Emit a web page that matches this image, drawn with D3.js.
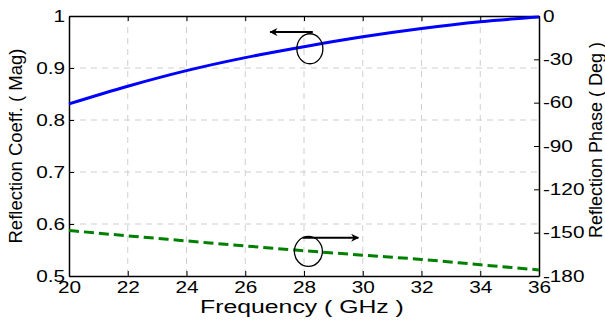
<!DOCTYPE html>
<html>
<head>
<meta charset="utf-8">
<script src="https://cdn.jsdelivr.net/npm/d3@7"></script>
<style>
  body { margin: 0; background: #fff; }
  text { font-family: "Liberation Sans", Arial, sans-serif; fill: #000; }
</style>
</head>
<body>
<div id="chart"></div>
<script>
// Frequency points (GHz)
var freq = [20, 22, 24, 26, 28, 30, 32, 34, 36];
// Reflection coefficient magnitude
var magnitude = [0.831, 0.865, 0.895, 0.920, 0.941, 0.960, 0.976, 0.989, 0.998];
// Reflection phase (deg)
var phase = [-148.5, -152.2, -155.7, -159.2, -162.5, -165.6, -168.5, -172.2, -175.8];

var xTicks = [20, 22, 24, 26, 28, 30, 32, 34, 36];
var magTicks = [0.5, 0.6, 0.7, 0.8, 0.9, 1];
var phaseTicks = [0, -30, -60, -90, -120, -150, -180];

var width = 605;
var height = 322;
var margin = { top: 16, right: 65, bottom: 46, left: 69 };
var stretch = 1.3; // tick labels in the original look wide

var svg = d3.select("#chart")
    .append("svg")
    .attr("width", width)
    .attr("height", height);

var xScale = d3.scaleLinear()
    .domain([20, 36])
    .range([margin.left, width - margin.right - 1]);

var yMag = d3.scaleLinear()
    .domain([0.5, 1])
    .range([height - margin.bottom, margin.top]);

var yPhase = d3.scaleLinear()
    .domain([-180, 0])
    .range([height - margin.bottom, margin.top]);

var x0 = xScale.range()[0], x1 = xScale.range()[1];
var y0 = yMag.range()[0], y1 = yMag.range()[1];

// grid lines
var grid = svg.append("g")
    .attr("stroke", "#cfcfcf")
    .attr("stroke-width", 1)
    .attr("stroke-dasharray", "6,5");

grid.selectAll(".gx")
    .data(xTicks.slice(1, -1))
    .enter().append("line")
    .attr("x1", d => xScale(d)).attr("x2", d => xScale(d))
    .attr("y1", y1).attr("y2", y0);

grid.selectAll(".gy")
    .data(magTicks.slice(1, -1))
    .enter().append("line")
    .attr("x1", x0).attr("x2", x1)
    .attr("y1", d => yMag(d)).attr("y2", d => yMag(d));

// axes
var xAxis = svg.append("g")
    .attr("transform", "translate(0," + y0 + ")")
    .call(d3.axisBottom(xScale).tickValues(xTicks).tickSizeInner(-5).tickSizeOuter(0).tickPadding(6));

var xTop = svg.append("g")
    .attr("transform", "translate(0," + y1 + ")")
    .call(d3.axisTop(xScale).tickValues(xTicks).tickSizeInner(-5).tickSizeOuter(0).tickFormat(""));

var yLeft = svg.append("g")
    .attr("transform", "translate(" + x0 + ",0)")
    .call(d3.axisLeft(yMag).tickValues(magTicks).tickSizeInner(-5).tickSizeOuter(0).tickPadding(3)
        .tickFormat(d => d === 1 ? "1" : d3.format(".1f")(d)));

var yRight = svg.append("g")
    .attr("transform", "translate(" + x1 + ",0)")
    .call(d3.axisRight(yPhase).tickValues(phaseTicks).tickSizeInner(-5).tickSizeOuter(0).tickPadding(3)
        .tickFormat(d => d === 0 ? "0" : "-" + Math.abs(d)));

[xAxis, xTop, yLeft, yRight].forEach(function(g) {
    g.select(".domain").attr("stroke", "#000").attr("stroke-width", 1.5);
    g.selectAll(".tick line").attr("stroke", "#000");
    g.selectAll(".tick text")
        .style("font-size", "16px")
        .style("font-family", "Liberation Sans, Arial, sans-serif")
        .attr("transform", "scale(" + stretch + ",1)");
});

// curves
var magLine = d3.line()
    .x((d, i) => xScale(freq[i]))
    .y(d => yMag(d))
    .curve(d3.curveMonotoneX);

var phaseLine = d3.line()
    .x((d, i) => xScale(freq[i]))
    .y(d => yPhase(d))
    .curve(d3.curveMonotoneX);

svg.append("path")
    .datum(magnitude)
    .attr("d", magLine)
    .attr("fill", "none")
    .attr("stroke", "#0000ff")
    .attr("stroke-width", 3);

svg.append("path")
    .datum(phase)
    .attr("d", phaseLine)
    .attr("fill", "none")
    .attr("stroke", "#008000")
    .attr("stroke-width", 3)
    .attr("stroke-dasharray", "10,5");

// arrow marker
svg.append("defs").append("marker")
    .attr("id", "arrow")
    .attr("viewBox", "0 0 10 10")
    .attr("refX", 9).attr("refY", 5)
    .attr("markerWidth", 5).attr("markerHeight", 4)
    .attr("markerUnits", "strokeWidth")
    .attr("orient", "auto")
    .append("path")
    .attr("d", "M0,0 L10,5 L0,10 L3,5 Z")
    .attr("fill", "#000");

// annotation: magnitude -> left axis
svg.append("ellipse")
    .attr("cx", xScale(28.2)).attr("cy", yMag(0.937))
    .attr("rx", 13).attr("ry", 15)
    .attr("fill", "none").attr("stroke", "#000").attr("stroke-width", 1.3);
svg.append("line")
    .attr("x1", xScale(28.3)).attr("y1", yMag(0.969))
    .attr("x2", xScale(26.85)).attr("y2", yMag(0.969))
    .attr("stroke", "#000").attr("stroke-width", 2)
    .attr("marker-end", "url(#arrow)");

// annotation: phase -> right axis
svg.append("ellipse")
    .attr("cx", xScale(28.15)).attr("cy", yPhase(-163))
    .attr("rx", 14).attr("ry", 15)
    .attr("fill", "none").attr("stroke", "#000").attr("stroke-width", 1.3);
svg.append("line")
    .attr("x1", xScale(27.95)).attr("y1", yPhase(-153.5))
    .attr("x2", xScale(29.85)).attr("y2", yPhase(-153.5))
    .attr("stroke", "#000").attr("stroke-width", 2)
    .attr("marker-end", "url(#arrow)");

// axis labels
svg.append("text")
    .attr("transform", "translate(302,313) scale(1.34,1)")
    .style("text-anchor", "middle")
    .style("font-size", "18.5px")
    .text("Frequency ( GHz )");

svg.append("text")
    .attr("transform", "translate(22,146) rotate(-90)")
    .style("text-anchor", "middle")
    .style("font-size", "18.5px")
    .text("Reflection Coeff. ( Mag)");

svg.append("text")
    .attr("transform", "translate(602,140) rotate(-90)")
    .style("text-anchor", "middle")
    .style("font-size", "18px")
    .text("Reflection Phase ( Deg )");
</script>
</body>
</html>
